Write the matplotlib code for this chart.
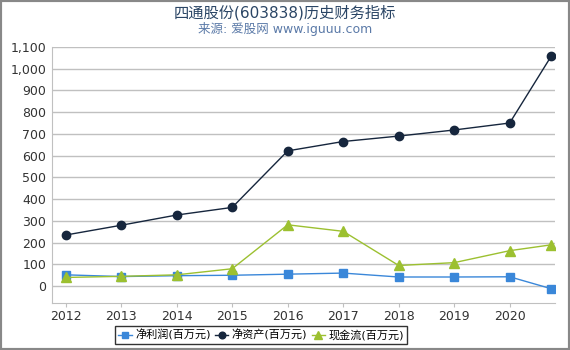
import matplotlib
matplotlib.use("Agg")
import matplotlib.pyplot as plt
from matplotlib.ticker import FuncFormatter

plt.rcParams['font.family'] = ['DejaVu Sans', 'Noto Sans CJK SC']

years = [2012, 2013, 2014, 2015, 2016, 2017, 2018, 2019, 2020, 2020.75]
tick_years = [2012, 2013, 2014, 2015, 2016, 2017, 2018, 2019, 2020]
net_profit = [52, 44, 48, 50, 55, 60, 42, 42, 43, -12]
net_assets = [235, 280, 327, 362, 622, 665, 690, 718, 750, 1058]
cash_flow = [40, 45, 52, 80, 282, 252, 95, 108, 163, 190]

fig = plt.figure(figsize=(5.7, 3.5), dpi=100)
ax = fig.add_axes([0.091, 0.134, 0.883, 0.732])

ax.plot(years, net_profit, color='#3a87d9', marker='s', markersize=6, lw=1, label='净利润(百万元)')
ax.plot(years, net_assets, color='#16263d', marker='o', markersize=6, lw=1, label='净资产(百万元)')
ax.plot(years, cash_flow, color='#9cc030', marker='^', markersize=6.5, lw=1, label='现金流(百万元)')

ax.set_ylim(-78, 1100)
ax.set_xlim(2011.75, 2020.82)
ax.set_yticks(range(0, 1101, 100))
ax.yaxis.set_major_formatter(FuncFormatter(lambda v, p: f'{int(v):,}'))
ax.set_xticks(tick_years)
ax.grid(axis='y', color='#c0c0c0', lw=1)
ax.set_axisbelow(True)
for s in ['top', 'right']:
    ax.spines[s].set_visible(False)
for s in ['left', 'bottom']:
    ax.spines[s].set_color('#c0c0c0')
ax.tick_params(axis='y', length=0, labelsize=9, colors='#333333', pad=4)
ax.tick_params(axis='x', length=3, color='#c0c0c0', labelsize=9, labelcolor='#333333', pad=2)

fig.text(0.5, 0.965, '四通股份(603838)历史财务指标', ha='center', va='center', fontsize=11, color='#2a4565')
fig.text(0.5, 0.918, '来源: 爱股网 www.iguuu.com', ha='center', va='center', fontsize=9, color='#5b7aa8')

leg = fig.legend(loc='center', bbox_to_anchor=(0.458, 0.043), ncol=3, fontsize=8,
                 frameon=True, fancybox=False, handlelength=1.2, handletextpad=0.3,
                 columnspacing=0.4, borderpad=0.3, markerscale=0.8)
leg.get_frame().set_edgecolor('black')
leg.get_frame().set_linewidth(1)

fig.patches.append(plt.Rectangle((0, 0), 1, 1, transform=fig.transFigure, fill=False,
                                 edgecolor='#888888', lw=3))

fig.savefig('out.png', dpi=100)
